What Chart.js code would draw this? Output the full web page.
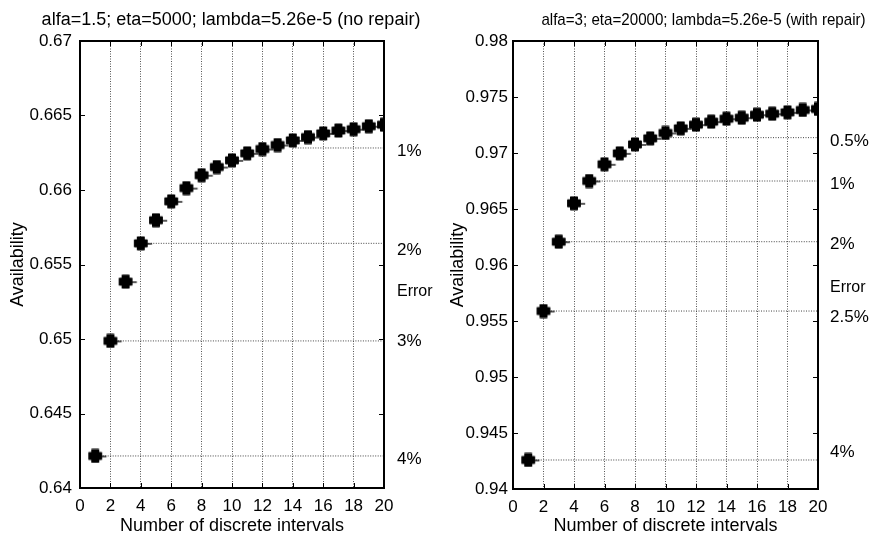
<!DOCTYPE html>
<html>
<head>
<meta charset="utf-8">
<script src="https://cdn.jsdelivr.net/npm/chart.js@4"></script>
<style>
  html, body { margin: 0; padding: 0; background: #fff; }
  #wrap { position: relative; width: 880px; height: 538px; overflow: hidden; }
  .panel { position: absolute; top: 0; width: 440px; height: 538px; }
</style>
</head>
<body>
<div id="wrap">
  <div class="panel" style="left:0"><canvas id="left" width="440" height="538"></canvas></div>
  <div class="panel" style="left:440px"><canvas id="right" width="440" height="538"></canvas></div>
</div>
<script>
// Number of discrete intervals (x values)
const intervals = [1, 2, 3, 4, 5, 6, 7, 8, 9, 10, 11, 12, 13, 14, 15, 16, 17, 18, 19, 20];

// Availability, no repair (alfa=1.5, eta=5000)
const availNoRepair = [0.64215, 0.64987, 0.65385, 0.65642, 0.65797, 0.65924, 0.66013, 0.66099, 0.66154, 0.66199,
                       0.66246, 0.66275, 0.66302, 0.66333, 0.66355, 0.66380, 0.66399, 0.66408, 0.66428, 0.66438];

// Availability, with repair (alfa=3, eta=20000)
const availRepair = [0.94259, 0.95589, 0.96208, 0.96551, 0.96750, 0.96899, 0.96997, 0.97077, 0.97131, 0.97179,
                     0.97220, 0.97253, 0.97280, 0.97306, 0.97315, 0.97342, 0.97351, 0.97363, 0.97384, 0.97393];

// Error threshold lines: label, first interval, availability level
const errNoRepairLabels = ['1%', '2%', '3%', '4%'];
const errNoRepairStart  = [14, 4, 2, 1];
const errNoRepairLevel  = [0.66282, 0.65642, 0.64987, 0.64215];

const errRepairLabels = ['0.5%', '1%', '2%', '2.5%', '4%'];
const errRepairStart  = [10, 5, 3, 2, 1];
const errRepairLevel  = [0.97137, 0.96750, 0.96208, 0.95589, 0.94259];

// Right-hand annotation texts and the availability they sit at
const noteNoRepairText  = ['1%', '2%', 'Error', '3%', '4%'];
const noteNoRepairValue = [0.66262, 0.65593, 0.65317, 0.64982, 0.64195];
const noteRepairText    = ['0.5%', '1%', '2%', 'Error', '2.5%', '4%'];
const noteRepairValue   = [0.97101, 0.96723, 0.96188, 0.95795, 0.95536, 0.94324];

// Axis ranges and tick steps
const xRange = [0, 20];
const xStep = 2;
const yRangeNoRepair = [0.64, 0.67];
const yRangeRepair = [0.94, 0.98];
const yStep = 0.005;

const titles = [
  'alfa=1.5; eta=5000; lambda=5.26e-5 (no repair)',
  'alfa=3; eta=20000; lambda=5.26e-5 (with repair)'
];

const FAMILY = "'Liberation Sans', Arial, Helvetica, sans-serif";
Chart.defaults.font.family = FAMILY;
Chart.defaults.color = '#000';

// Filled plus marker with a short trailing stroke
function makeMarker() {
  const c = document.createElement('canvas');
  c.width = 28; c.height = 15;
  const g = c.getContext('2d');
  const cx = 14, cy = 7.5;
  g.fillStyle = '#000';
  g.strokeStyle = '#000';
  g.lineJoin = 'round';
  g.lineWidth = 1.4;
  g.beginPath();
  const a = 3.3, b = 6.2;
  g.moveTo(cx - a, cy - b); g.lineTo(cx + a, cy - b); g.lineTo(cx + a, cy - a);
  g.lineTo(cx + b, cy - a); g.lineTo(cx + b, cy + a); g.lineTo(cx + a, cy + a);
  g.lineTo(cx + a, cy + b); g.lineTo(cx - a, cy + b); g.lineTo(cx - a, cy + a);
  g.lineTo(cx - b, cy + a); g.lineTo(cx - b, cy - a); g.lineTo(cx - a, cy - a);
  g.closePath();
  g.fill(); g.stroke();
  g.lineWidth = 1.3;
  g.beginPath(); g.moveTo(cx + b, cy + 0.5); g.lineTo(cx + b + 5, cy + 0.5); g.stroke();
  return c;
}
const marker = makeMarker();

// Box frame with inward tick marks on all four sides
const framePlugin = {
  id: 'frame',
  afterDraw(chart) {
    const { ctx, chartArea: a, scales } = chart;
    ctx.save();
    ctx.strokeStyle = '#000';
    ctx.lineWidth = 2;
    ctx.strokeRect(a.left, a.top, a.right - a.left, a.bottom - a.top);
    ctx.lineWidth = 1;
    const L = 5;
    scales.x.ticks.forEach(t => {
      const px = Math.round(scales.x.getPixelForValue(t.value)) + 0.5;
      ctx.beginPath();
      ctx.moveTo(px, a.bottom); ctx.lineTo(px, a.bottom - L);
      ctx.moveTo(px, a.top); ctx.lineTo(px, a.top + L);
      ctx.stroke();
    });
    scales.y.ticks.forEach(t => {
      const py = Math.round(scales.y.getPixelForValue(t.value)) + 0.5;
      ctx.beginPath();
      ctx.moveTo(a.left, py); ctx.lineTo(a.left + L, py);
      ctx.moveTo(a.right, py); ctx.lineTo(a.right - L, py);
      ctx.stroke();
    });
    ctx.restore();
  }
};

// Panel title and the error annotations to the right of the plot
const textPlugin = {
  id: 'panelText',
  afterDraw(chart, args, opts) {
    const { ctx, chartArea: a, scales } = chart;
    ctx.save();
    ctx.fillStyle = '#000';
    ctx.textBaseline = 'middle';
    ctx.textAlign = 'center';
    ctx.font = opts.titleSize + 'px ' + FAMILY;
    ctx.save();
    ctx.translate((a.left + a.right) / 2 + opts.titleShift, opts.titleY);
    ctx.scale(opts.titleScaleX, 1);
    ctx.fillText(opts.title, 0, 0);
    ctx.restore();
    ctx.textAlign = 'left';
    opts.notes.forEach((txt, i) => {
      const size = txt === 'Error' ? opts.headSize : opts.noteSize;
      ctx.font = size + 'px ' + FAMILY;
      ctx.fillText(txt, a.right + opts.noteGap, scales.y.getPixelForValue(opts.noteValues[i]));
    });
    ctx.restore();
  }
};

function buildChart(id, values, yRange, errLabels, errStart, errLevel, notes, noteValues, cfg) {
  const datasets = errLabels.map((lab, i) => ({
    label: 'Error ' + lab,
    data: [{ x: errStart[i], y: errLevel[i] }, { x: xRange[1], y: errLevel[i] }],
    showLine: true,
    borderColor: '#444',
    borderWidth: 1,
    borderDash: [1, 1.5],
    pointRadius: 0,
    order: 2
  }));
  datasets.push({
    label: 'Availability',
    data: intervals.map((x, i) => ({ x, y: values[i] })),
    showLine: false,
    pointStyle: marker,
    pointRadius: 6,
    order: 1
  });

  return new Chart(document.getElementById(id), {
    type: 'scatter',
    data: { datasets },
    options: {
      responsive: false,
      animation: false,
      layout: { padding: { top: 41, right: cfg.padRight, left: 0, bottom: 0 } },
      plugins: {
        legend: { display: false },
        tooltip: { enabled: false },
        panelText: {
          title: cfg.title, titleSize: cfg.titleSize, titleScaleX: cfg.titleScaleX,
          titleShift: cfg.titleShift, titleY: 20,
          notes, noteValues, noteSize: cfg.noteSize, headSize: cfg.headSize, noteGap: cfg.noteGap
        }
      },
      scales: {
        x: {
          type: 'linear', min: xRange[0], max: xRange[1],
          afterFit: s => { s.height = cfg.xHeight; },
          ticks: { stepSize: xStep, padding: 8, font: { size: cfg.tickSize }, maxRotation: 0, autoSkip: false },
          grid: { color: '#555', lineWidth: 1, drawTicks: false },
          border: { display: true, color: '#000', width: 2, dash: [1, 1.5] },
          title: { display: true, text: 'Number of discrete intervals', font: { size: cfg.axisSize }, padding: { top: 0, bottom: 1 } }
        },
        y: {
          type: 'linear', min: yRange[0], max: yRange[1],
          afterFit: s => { s.width = cfg.yWidth; },
          ticks: {
            stepSize: yStep, padding: cfg.yPad, font: { size: cfg.tickSize },
            callback: v => String(parseFloat(v.toFixed(3)))
          },
          grid: { display: false, drawTicks: false },
          border: { display: true, color: '#000', width: 2 },
          title: { display: true, text: 'Availability', font: { size: cfg.axisSize }, padding: { top: 7, bottom: 0 } }
        }
      }
    },
    plugins: [framePlugin, textPlugin]
  });
}

buildChart('left', availNoRepair, yRangeNoRepair, errNoRepairLabels, errNoRepairStart, errNoRepairLevel,
  noteNoRepairText, noteNoRepairValue, {
    title: titles[0], titleSize: 18, titleScaleX: 1, titleShift: -1,
    noteSize: 17, headSize: 16, noteGap: 13,
    padRight: 56, xHeight: 50, yWidth: 80, yPad: 8, tickSize: 17, axisSize: 18
  });

buildChart('right', availRepair, yRangeRepair, errRepairLabels, errRepairStart, errRepairLevel,
  noteRepairText, noteRepairValue, {
    title: titles[1], titleSize: 17, titleScaleX: 0.89, titleShift: 38,
    noteSize: 17, headSize: 16, noteGap: 12,
    padRight: 62, xHeight: 49, yWidth: 73, yPad: 5, tickSize: 17, axisSize: 18
  });
</script>
</body>
</html>
